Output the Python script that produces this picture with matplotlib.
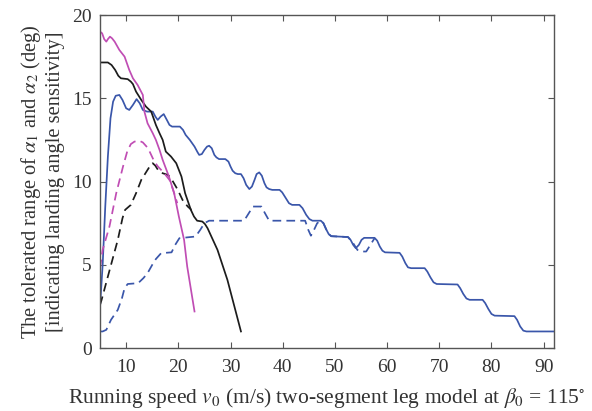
import numpy as np
import matplotlib
matplotlib.use("Agg")
import matplotlib.pyplot as plt

plt.rcParams["font.family"] = ["Liberation Serif", "DejaVu Serif"]
plt.rcParams["mathtext.fontset"] = "stix"

# blue solid
blue_x = [5, 5.5, 6, 6.5, 7, 7.5, 8, 8.7, 9.3, 10, 10.6, 11.3, 12.0, 12.6, 13.2, 14, 15.1, 15.6,
          16.05, 16.6, 17.2, 17.8, 18.3, 18.8, 20.3, 20.9, 21.4, 22.2, 23.1, 23.7, 24.0, 24.5, 25.0,
          25.5, 25.9, 26.4, 26.9, 27.3, 27.8, 29.0, 29.6, 30.0, 30.4, 30.9, 31.4, 32.0, 32.5, 33.0,
          33.6, 34.1, 34.6, 35.0, 35.5, 36.0, 36.5, 36.9, 37.4, 38.0, 39.4, 39.9, 40.6, 41.2, 41.8,
          43.2, 43.8, 44.5, 45.1, 45.7, 47.3, 47.8, 48.3, 48.8, 49.3, 52.5, 53.0, 53.5, 54.0, 54.6,
          55.1, 55.6, 57.6, 58.1, 58.6, 59.1, 59.6, 62.4, 62.9, 63.5, 64.0, 64.6, 67.2, 67.7, 68.3,
          68.9, 69.5, 73.5, 74.0, 74.6, 75.2, 75.8, 78.3, 78.8, 79.4, 80.0, 80.6, 84.4, 84.9, 85.5,
          86.1, 86.7, 92]
blue_y = [2.5, 5, 8.5, 11.5, 13.8, 14.8, 15.15, 15.2, 14.9, 14.4, 14.3, 14.6, 14.95, 14.7, 14.3,
          14.2, 14.2, 13.9, 13.7, 13.9, 14.05, 13.7, 13.4, 13.3, 13.3, 13.1, 12.8, 12.5, 12.1, 11.75,
          11.6, 11.65, 11.9, 12.1, 12.15, 12.0, 11.6, 11.45, 11.35, 11.35, 11.2, 10.9, 10.65, 10.5,
          10.45, 10.45, 10.2, 9.8, 9.55, 9.7, 10.1, 10.45, 10.55, 10.35, 9.9, 9.65, 9.55, 9.5, 9.5,
          9.35, 9.0, 8.7, 8.6, 8.6, 8.4, 8.0, 7.75, 7.65, 7.65, 7.5, 7.15, 6.85, 6.72, 6.67, 6.5,
          6.2, 6.0, 6.2, 6.5, 6.62, 6.62, 6.45, 6.1, 5.85, 5.75, 5.72, 5.5, 5.1, 4.85, 4.8, 4.8,
          4.6, 4.25, 3.95, 3.85, 3.82, 3.6, 3.25, 2.98, 2.9, 2.9, 2.7, 2.35, 2.05, 1.95, 1.92, 1.7,
          1.3, 1.05, 1.0, 1.0]

# blue dashed
blue_d_x = [5, 5.5, 6.2, 7.1, 8.4, 9.2, 9.7, 10.3, 12.3, 13.3, 14.1, 15, 15.7, 16.7, 18.7, 19.4,
            20.2, 23.3, 24.2, 25, 25.9, 32.6, 33.5, 34.3, 35.9, 36.6, 37.4, 44.3, 44.9, 45.4, 46.0,
            46.6, 47.3, 47.8, 48.3, 48.8, 49.3, 52.5, 53.5, 54.3, 55.0, 56.0, 56.8, 57.6]
blue_d_y = [1.0, 1.0, 1.1, 1.7, 2.3, 3.0, 3.6, 3.85, 3.9, 4.2, 4.5, 5.0, 5.35, 5.7, 5.75, 6.2,
            6.6, 6.7, 7.1, 7.5, 7.65, 7.65, 8.1, 8.5, 8.5, 8.1, 7.65, 7.65, 7.1, 6.75, 7.1,
            7.5, 7.65, 7.5, 7.15, 6.85, 6.72, 6.67, 6.3, 5.9, 5.8, 5.8, 6.2, 6.6]

# black solid
black_x = [5, 6.5, 7.2, 7.9, 8.5, 9.0, 10.3, 10.9, 11.3, 11.9, 12.9, 13.8, 14.8, 15.7, 16.4, 17,
           17.6, 18.6, 19.6, 20.6, 21.3, 22.4, 23.0, 23.6, 24.6, 25.1, 25.6, 27.5, 29.4, 32]
black_y = [17.15, 17.15, 17.0, 16.7, 16.35, 16.2, 16.15, 16.0, 15.85, 15.4, 14.9, 14.5, 14.2, 13.4,
           12.9, 12.5, 11.8, 11.5, 11.1, 10.3, 9.3, 8.3, 7.9, 7.65, 7.6, 7.45, 7.2, 5.9, 4.1, 1.0]

# black dashed
black_d_x = [5, 5.3, 6.5, 8.4, 9.3, 9.8, 10.9, 11.9, 12.9, 14.1, 14.7, 15.1, 15.6, 16.1, 17.0,
             18.0, 18.6, 19.9, 20.8, 21.8, 22.5]
black_d_y = [2.6, 2.9, 4.3, 6.5, 7.8, 8.3, 8.6, 9.3, 10.1, 10.7, 11.0, 11.1, 10.95, 10.7, 10.5,
             10.4, 10.2, 9.5, 8.9, 8.5, 8.3]

# magenta solid
mag_x = [5, 5.4, 5.8, 6.2, 6.5, 6.9, 7.3, 7.8, 8.7, 9.7, 10.6, 11.3, 12.2, 13.2, 13.5, 14.1,
         15.1, 15.7, 16.4, 17.0, 18.2, 19.2, 20.1, 21.1, 21.7, 23.1]
mag_y = [19.0, 18.9, 18.55, 18.4, 18.55, 18.7, 18.6, 18.4, 17.9, 17.5, 16.7, 16.2, 15.8, 15.2,
         14.2, 13.5, 12.9, 12.5, 11.9, 11.3, 10.3, 9.3, 7.9, 6.5, 4.9, 2.2]

# magenta dashed
mag_d_x = [5, 5.5, 6.8, 8.1, 9.4, 10.2, 10.9, 11.6, 12.5, 13.2, 14.2, 14.8, 15.4, 16.1, 17.3,
           18.3, 19.0, 19.8]
mag_d_y = [4.8, 5.9, 7.3, 9.3, 10.9, 11.8, 12.25, 12.4, 12.45, 12.35, 12.0, 11.6, 11.2, 10.9,
           10.5, 10.1, 9.5, 8.7]

blue = "#3a56aa"
black = "#1c1c1c"
magenta = "#c04db4"

fig = plt.figure(figsize=(5.92, 4.11), dpi=100)
ax = fig.add_axes([0.169, 0.153, 0.767, 0.8105])

lw = 1.25
dash = (0, (5, 3))
ax.plot(blue_x, blue_y, color=blue, lw=lw)
ax.plot(blue_d_x, blue_d_y, color=blue, lw=lw, ls=dash)
ax.plot(black_x, black_y, color=black, lw=lw)
ax.plot(black_d_x, black_d_y, color=black, lw=lw, ls=dash)
ax.plot(mag_x, mag_y, color=magenta, lw=lw)
ax.plot(mag_d_x, mag_d_y, color=magenta, lw=lw, ls=dash)

ax.set_xlim(5, 92)
ax.set_ylim(0, 20)
ax.set_xticks(np.arange(10, 91, 10))
ax.set_yticks([0, 5, 10, 15, 20])
ax.tick_params(direction="in", top=True, right=True, length=4, width=0.8,
               labelsize=14, colors="#555555", labelcolor="#333333")
ax.tick_params(axis="x", pad=8)
ax.tick_params(axis="y", pad=6)
for s in ax.spines.values():
    s.set_color("#555555")
    s.set_linewidth(1.0)

ax.set_xlabel(r"Running speed $v_0$ (m/s) two-segment leg model at $\beta_0$ = 115$^{\circ}$",
              fontsize=15.5, color="#333333", labelpad=7)
ax.set_ylabel("The tolerated range of $\\alpha_1$ and $\\alpha_2$ (deg)\n[indicating landing angle sensitivity]",
              fontsize=14.8, color="#333333", labelpad=5, linespacing=1.25)

fig.savefig("out.png", dpi=100)
